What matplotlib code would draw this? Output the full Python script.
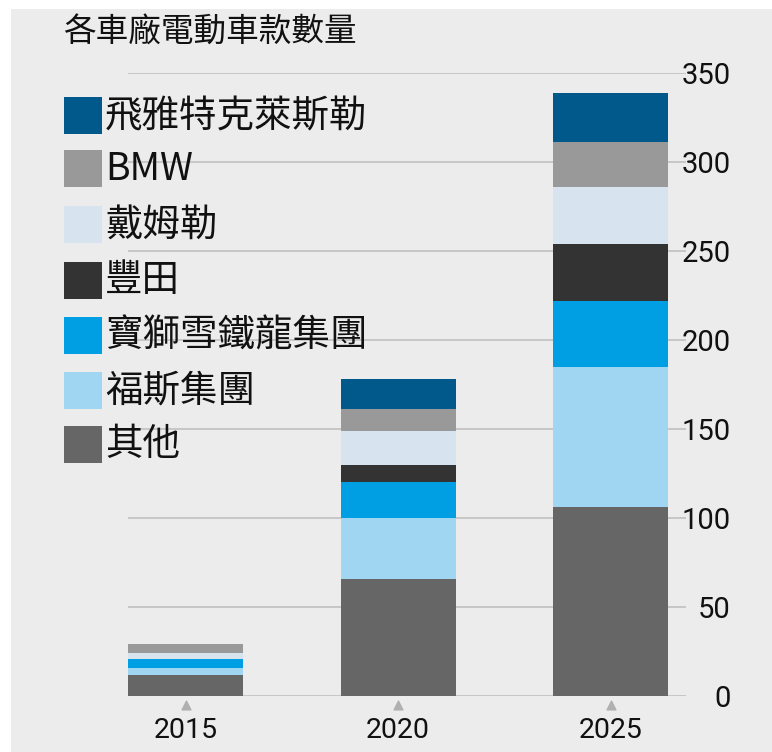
import matplotlib
matplotlib.use("Agg")
import matplotlib.pyplot as plt
from matplotlib.patches import Rectangle
import matplotlib.transforms as mtransforms
import numpy as np

years = ["2015", "2020", "2025"]
series = ["其他", "福斯集團", "寶獅雪鐵龍集團", "豐田", "戴姆勒", "BMW", "飛雅特克萊斯勒"]
other = [12, 66, 106]
vw = [4, 34, 79]
psa = [5, 20, 37]
toyota = [0, 10, 32]
daimler = [3, 19, 32]
bmw = [5, 12, 25]
fca = [0, 17, 28]
values = [other, vw, psa, toyota, daimler, bmw, fca]
colors = ["#666666", "#a1d6f3", "#009fe3", "#333333", "#d7e3ee", "#999999", "#00598a"]
yticks = [0, 50, 100, 150, 200, 250, 300, 350]

CJK = ["Noto Sans CJK TC", "DejaVu Sans"]
NUM = ["Roboto", "DejaVu Sans"]

W, H = 772, 752
fig = plt.figure(figsize=(W / 100, H / 100), dpi=100)
fig.patch.set_facecolor("white")
fig.patches.append(Rectangle((11 / W, 0), 1 - 11 / W, 1 - 9 / H,
                             transform=fig.transFigure, facecolor="#ececec",
                             edgecolor="none", zorder=-10))

ax = fig.add_axes([128 / W, 1 - 696 / H, (686 - 128) / W, (696 - 73) / H])
ax.set_facecolor("none")
x = np.arange(len(years))
bottom = np.zeros(len(years))
for vals, col, name in zip(values, colors, series):
    ax.bar(x, vals, width=0.541, bottom=bottom, color=col, label=name, zorder=3)
    bottom += np.array(vals)

ax.set_xlim(-0.2706, 2.355)
ax.set_ylim(0, 350)
for s in ax.spines.values():
    s.set_visible(False)
ax.set_yticks(yticks)
ax.yaxis.tick_right()
ax.grid(axis="y", color="#bdbdbd", linewidth=1.1, zorder=0)
ax.tick_params(axis="y", length=0, pad=32)
for lab in ax.get_yticklabels():
    lab.set_horizontalalignment("right")
    lab.set_fontfamily(NUM)
    lab.set_fontsize(21)
    lab.set_color("#111111")
ax.set_xticks(x)
ax.set_xticklabels(years, fontfamily=NUM, fontsize=20.5, color="#111111")
ax.tick_params(axis="x", length=0, pad=15)

trans = mtransforms.blended_transform_factory(ax.transData, ax.transAxes)
ax.scatter(x, [-0.015] * len(x), marker="^", s=40, color="#b0b0b0",
           transform=trans, clip_on=False, zorder=4)

fig.text(63 / W, 1 - 33 / H, "各車廠電動車款數量", fontfamily=CJK, fontsize=23.5,
         va="center", ha="left", color="#111111")

# legend
row_y = [115.5, 168.5, 224, 280, 335, 390, 444]
for name, col, yy in zip(series[::-1], colors[::-1], row_y):
    fig.patches.append(Rectangle((64 / W, 1 - (yy + 18.5) / H), 38 / W, 37 / H,
                                 transform=fig.transFigure, facecolor=col,
                                 edgecolor="none", zorder=5))
    fig.text(105 / W, 1 - (yy + 1) / H, name, fontfamily=CJK, fontsize=27,
             va="center", ha="left", color="#111111", zorder=6)

fig.savefig("out.png", dpi=100, facecolor=fig.get_facecolor())
